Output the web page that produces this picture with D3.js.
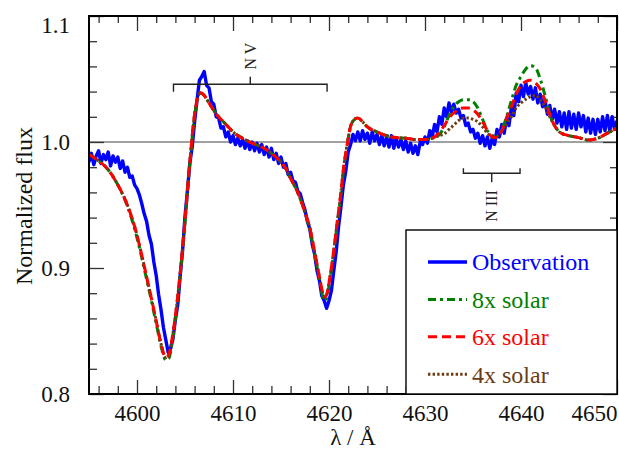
<!DOCTYPE html>
<html><head><meta charset="utf-8">
<script src="https://cdn.jsdelivr.net/npm/d3@7"></script>
<style>body{margin:0;background:#fff}svg{display:block}text{font-family:"Liberation Serif","Times New Roman",serif}</style>
</head><body><svg id="c" width="619" height="450"></svg>
<script>
// ---------- data ----------
const modelWl = [4595,4596,4597,4598,4599,4600,4600.5,4601,4601.5,4602,4602.5,4603,4603.3,4603.7,4604,4604.5,4605,4605.5,4606,4606.6,
4607,4607.5,4608,4608.5,4609,4609.5,4610,4611,4612,4613,4614,4615,4615.5,4616,4616.5,4617,4617.5,4618,4618.5,4619,
4619.4,4619.6,4619.8,4620.1,4620.5,4620.8,4621.2,4621.5,4621.9,4622.2,4622.6,4623,4623.5,4624,4625,4626,4627,4628,4629,4630,
4630.5,4631,4631.5,4632,4632.5,4633,4633.5,4634,4634.5,4635,4635.5,4636,4636.5,4637,4637.5,4638,4638.5,4639,4639.5,4640,
4640.5,4641,4641.5,4642,4642.5,4643,4643.5,4644,4645,4646,4647,4648,4649,4650];
const model6 = [0.990,0.985,0.978,0.966,0.950,0.926,0.910,0.893,0.876,0.858,0.840,0.829,0.831,0.846,0.862,0.896,0.938,0.984,1.022,1.039,
1.037,1.031,1.025,1.020,1.016,1.012,1.008,1.003,0.999,0.996,0.991,0.984,0.979,0.971,0.964,0.955,0.944,0.932,0.913,0.893,
0.879,0.877,0.880,0.893,0.914,0.933,0.957,0.978,0.998,1.011,1.0175,1.019,1.016,1.012,1.008,1.005,1.0035,1.003,1.002,1.002,
1.0025,1.004,1.008,1.013,1.019,1.023,1.026,1.027,1.027,1.0255,1.022,1.016,1.009,1.004,1.0035,1.009,1.019,1.028,1.038,1.045,
1.048,1.049,1.047,1.042,1.033,1.022,1.013,1.008,1.005,1.0035,1.0015,1.003,1.007,1.011];
const model8 = [0.990,0.985,0.978,0.966,0.949,0.924,0.908,0.891,0.874,0.856,0.838,0.827,0.828,0.843,0.860,0.894,0.936,0.982,1.021,1.039,
1.037,1.031,1.025,1.020,1.016,1.012,1.008,1.003,0.999,0.996,0.991,0.984,0.979,0.971,0.964,0.955,0.944,0.930,0.911,0.891,
0.876,0.874,0.877,0.891,0.912,0.931,0.956,0.977,0.998,1.011,1.0175,1.019,1.016,1.012,1.008,1.005,1.0035,1.003,1.002,1.002,
1.0025,1.0035,1.006,1.012,1.021,1.028,1.032,1.0335,1.0335,1.032,1.027,1.018,1.009,1.004,1.004,1.010,1.020,1.033,1.045,1.052,
1.058,1.0605,1.059,1.050,1.037,1.022,1.013,1.008,1.005,1.0035,1.0015,1.003,1.007,1.011];
const model4 = [0.990,0.985,0.978,0.966,0.950,0.926,0.910,0.893,0.876,0.858,0.840,0.829,0.831,0.846,0.862,0.896,0.938,0.984,1.022,1.039,
1.037,1.031,1.025,1.020,1.016,1.012,1.008,1.003,0.999,0.996,0.991,0.984,0.979,0.971,0.964,0.955,0.944,0.932,0.913,0.893,
0.879,0.877,0.880,0.893,0.914,0.933,0.957,0.978,0.998,1.011,1.0175,1.019,1.016,1.012,1.008,1.005,1.0035,1.003,1.002,1.002,
1.0025,1.004,1.005,1.0065,1.010,1.0135,1.017,1.019,1.019,1.018,1.016,1.012,1.007,1.005,1.005,1.009,1.0145,1.020,1.027,1.031,
1.034,1.036,1.037,1.0335,1.028,1.020,1.013,1.008,1.005,1.0035,1.0015,1.003,1.007,1.011];

const obsWl = [4595,4595.25,4595.5,4595.75,4596,4596.25,4596.5,4596.75,4597,4597.25,4597.5,4597.75,4598,4598.25,4598.5,4598.75,
4599,4599.25,4599.5,4599.75,4600,4600.25,4600.5,4600.75,4601,4601.25,4601.5,4601.75,4602,4602.25,4602.5,4602.75,
4603,4603.25,4603.5,4603.75,4604,4604.25,4604.5,4604.75,4605,4605.25,4605.5,4605.75,4606,4606.25,4606.5,4606.75,
4607,4607.25,4607.5,4607.75,4608,4608.25,4608.5,4608.75,4609,4609.25,4609.5,4609.75,4610,4610.25,4610.5,4610.75,
4611,4611.25,4611.5,4611.75,4612,4612.25,4612.5,4612.75,4613,4613.25,4613.5,4613.75,4614,4614.25,4614.5,4614.75,
4615,4615.25,4615.5,4615.75,4616,4616.25,4616.5,4616.75,4617,4617.25,4617.5,4617.75,4618,4618.25,4618.5,4618.75,
4619,4619.25,4619.5,4619.75,4620,4620.25,4620.5,4620.75,4621,4621.25,4621.5,4621.75,4622,4622.25,4622.5,4622.75,
4623,4623.25,4623.5,4623.75,4624,4624.25,4624.5,4624.75,4625,4625.25,4625.5,4625.75,4626,4626.25,4626.5,4626.75,
4627,4627.25,4627.5,4627.75,4628,4628.25,4628.5,4628.75,4629,4629.25,4629.5,4629.75,4630,4630.25,4630.5,4630.75,
4631,4631.25,4631.5,4631.75,4632,4632.25,4632.5,4632.75,4633,4633.25,4633.5,4633.75,4634,4634.25,4634.5,4634.75,
4635,4635.25,4635.5,4635.75,4636,4636.25,4636.5,4636.75,4637,4637.25,4637.5,4637.75,4638,4638.25,4638.5,4638.75,
4639,4639.25,4639.5,4639.75,4640,4640.25,4640.5,4640.75,4641,4641.25,4641.5,4641.75,4642,4642.25,4642.5,4642.75,
4643,4643.25,4643.5,4643.75,4644,4644.25,4644.5,4644.75,4645,4645.25,4645.5,4645.75,4646,4646.25,4646.5,4646.75,
4647,4647.25,4647.5,4647.75,4648,4648.25,4648.5,4648.75,4649,4649.25,4649.5,4649.75,4650];
const obsFlux = [0.984,0.991,0.982,0.989,0.993,0.983,0.990,0.986,0.992,0.981,0.989,0.984,0.988,0.979,0.985,0.976,
0.980,0.972,0.973,0.966,0.963,0.958,0.951,0.943,0.937,0.926,0.919,0.905,0.894,0.879,0.867,0.853,
0.843,0.833,0.836,0.844,0.859,0.871,0.894,0.914,0.941,0.961,0.983,0.996,1.016,1.033,1.049,1.052,
1.056,1.045,1.043,1.032,1.030,1.020,1.019,1.011,1.012,1.004,1.008,1.000,1.005,0.998,1.003,0.997,
1.002,0.995,1.001,0.994,1.000,0.993,0.999,0.992,0.998,0.990,0.996,0.988,0.995,0.986,0.991,0.983,
0.988,0.980,0.983,0.974,0.976,0.969,0.968,0.961,0.959,0.952,0.946,0.937,0.931,0.919,0.911,0.898,
0.890,0.878,0.874,0.868,0.874,0.882,0.898,0.913,0.933,0.949,0.966,0.977,0.992,0.998,1.006,1.001,
1.008,1.001,1.009,1.002,1.007,0.999,1.008,1.001,1.006,0.998,1.005,0.997,1.004,0.996,1.005,0.995,
1.003,0.996,1.002,0.994,1.001,0.992,0.999,0.991,0.997,0.990,1.000,0.998,1.004,0.999,1.009,1.004,
1.014,1.008,1.020,1.014,1.027,1.020,1.031,1.024,1.030,1.023,1.026,1.019,1.021,1.013,1.015,1.008,
1.010,1.003,1.007,0.999,1.005,0.997,1.004,0.995,1.003,0.998,1.010,1.004,1.014,1.007,1.019,1.013,
1.028,1.021,1.039,1.032,1.045,1.036,1.047,1.038,1.044,1.034,1.043,1.031,1.038,1.028,1.033,1.022,
1.029,1.018,1.026,1.015,1.024,1.012,1.023,1.010,1.024,1.011,1.022,1.010,1.023,1.012,1.021,1.008,
1.019,1.007,1.018,1.006,1.018,1.008,1.020,1.009,1.021,1.009,1.020,1.010,1.017];

const xTicks = [4600,4610,4620,4630,4640,4650];
const xTickLabels = ["4600","4610","4620","4630","4640","4650"];
const yTicks = [0.8,0.9,1.0,1.1];
const yTickLabels = ["0.8","0.9","1.0","1.1"];
const seriesNames = ["Observation","8x solar","6x solar","4x solar"];
const nvBracket = [4603.8, 4619.8];   // N V line positions
const n3Bracket = [4634.0, 4639.9];   // N III line positions

// ---------- layout ----------
const L = 89, R = 617, T = 16, B = 394;
const svg = d3.select("#c");
const x = d3.scaleLinear().domain([4595, 4650]).range([L, R]);
const y = d3.scaleLinear().domain([0.8, 1.1]).range([B, T]);

const colors = ["#0000ff", "#008000", "#ff0000", "#6b3c14"];
const dashes = [null, "8,4,3,4", "9,5", "2.4,2.2"];
const widths = [3.4, 3, 3, 3];

svg.append("defs").append("clipPath").attr("id","clip")
  .append("rect").attr("x",L).attr("y",T).attr("width",R-L).attr("height",B-T);

// reference line at 1.0
svg.append("line").attr("x1",L).attr("x2",R).attr("y1",y(1)).attr("y2",y(1))
  .attr("stroke","#444").attr("stroke-width",1.2);

// ticks (inward, all sides)
const xMinor = d3.range(4596, 4650, 2).filter(v => v % 10 !== 0);
const yMinor = d3.range(0.82, 1.1, 0.02).filter(v => Math.abs(v*10 - Math.round(v*10)) > 1e-6);
function tickStyle(g){ g.select(".domain").remove(); g.selectAll("line").attr("stroke","#333").attr("stroke-width",1.3); }
svg.append("g").attr("transform",`translate(0,${B})`)
  .call(d3.axisBottom(x).tickValues(xMinor).tickSize(-8).tickFormat("")).call(tickStyle);
svg.append("g").attr("transform",`translate(0,${T})`)
  .call(d3.axisTop(x).tickValues(xMinor).tickSize(-7).tickFormat("")).call(tickStyle);
svg.append("g").attr("transform",`translate(0,${T})`)
  .call(d3.axisTop(x).tickValues(xTicks).tickSize(-15).tickFormat("")).call(tickStyle);
const gxb = svg.append("g").attr("transform",`translate(0,${B})`)
  .call(d3.axisBottom(x).tickValues(xTicks).tickSize(-14).tickPadding(11).tickFormat((d,i)=>xTickLabels[i])).call(tickStyle);
gxb.selectAll("text").attr("font-size",23).attr("fill","#111").attr("font-family","'Liberation Serif',serif");
gxb.selectAll("text").filter(d => d === 4650).attr("text-anchor","end");

svg.append("g").attr("transform",`translate(${L},0)`)
  .call(d3.axisLeft(y).tickValues(yMinor).tickSize(-8).tickFormat("")).call(tickStyle);
svg.append("g").attr("transform",`translate(${R},0)`)
  .call(d3.axisRight(y).tickValues(yMinor).tickSize(-7).tickFormat("")).call(tickStyle);
svg.append("g").attr("transform",`translate(${R},0)`)
  .call(d3.axisRight(y).tickValues(yTicks).tickSize(-14).tickFormat("")).call(tickStyle);
const gyl = svg.append("g").attr("transform",`translate(${L},0)`)
  .call(d3.axisLeft(y).tickValues(yTicks).tickSize(-15).tickPadding(19).tickFormat((d,i)=>yTickLabels[i])).call(tickStyle);
gyl.selectAll("text").attr("font-size",23).attr("fill","#111").attr("font-family","'Liberation Serif',serif");
gyl.selectAll("text").filter(d => d === 1.1).attr("y", 9);

// spectra
const plot = svg.append("g").attr("clip-path","url(#clip)");
const lineObs = d3.line().x((d,i)=>x(obsWl[i])).y(d=>y(d));
const lineMod = d3.line().x((d,i)=>x(modelWl[i])).y(d=>y(d)).curve(d3.curveMonotoneX);
plot.append("path").datum(obsFlux).attr("d",lineObs).attr("fill","none")
  .attr("stroke",colors[0]).attr("stroke-width",widths[0]).attr("stroke-linejoin","round");
[[model8,1],[model4,3],[model6,2]].forEach(([arr,k])=>{
  plot.append("path").datum(arr).attr("d",lineMod).attr("fill","none")
    .attr("stroke",colors[k]).attr("stroke-width",widths[k]).attr("stroke-dasharray",dashes[k]);
});

// line identification brackets
function bracket(ends, yb, ytick, ymid, label, ylab){
  const g = svg.append("g").attr("stroke","#222").attr("stroke-width",1.4).attr("fill","none");
  const mid = (ends[0]+ends[1])/2;
  g.append("path").attr("d",
    `M${x(ends[0])},${y(ytick)}V${y(yb)}H${x(ends[1])}V${y(ytick)}M${x(mid)},${y(yb)}V${y(ymid)}`);
  svg.append("text").attr("transform",`translate(${x(mid)},${ylab}) rotate(-90)`)
    .attr("text-anchor","middle").attr("dy","0.35em").attr("font-size",16).attr("fill","#222").text(label);
}
bracket(nvBracket, 1.0458, 1.0399, 1.0518, "N V", 56);
bracket(n3Bracket, 0.9752, 0.9791, 0.968, "N III", 206);

// frame
svg.append("rect").attr("x",L).attr("y",T).attr("width",R-L).attr("height",B-T)
  .attr("fill","none").attr("stroke","#000").attr("stroke-width",2);

// axis titles
svg.append("text").attr("transform",`translate(24,206) rotate(-90)`).attr("text-anchor","middle")
  .attr("dy","0.35em").attr("font-size",24).attr("fill","#111").text("Normalized flux");
svg.append("text").attr("x",(L+R)/2).attr("y",445).attr("text-anchor","middle")
  .attr("font-size",23).attr("fill","#111").text("λ / Å");

// legend
const lg = svg.append("g");
lg.append("rect").attr("x",406).attr("y",230).attr("width",R-406).attr("height",B-230)
  .attr("fill","#fff").attr("stroke","#000").attr("stroke-width",1.4);
seriesNames.forEach((name,i)=>{
  const yy = 262 + i*37.4;
  lg.append("line").attr("x1",428).attr("x2",467).attr("y1",yy).attr("y2",yy)
    .attr("stroke",colors[i]).attr("stroke-width",widths[i]).attr("stroke-dasharray",dashes[i]);
  lg.append("text").attr("x",472).attr("y",yy).attr("dy","0.35em").attr("font-size",24)
    .attr("fill",colors[i]).text(name);
});
</script></body></html>
